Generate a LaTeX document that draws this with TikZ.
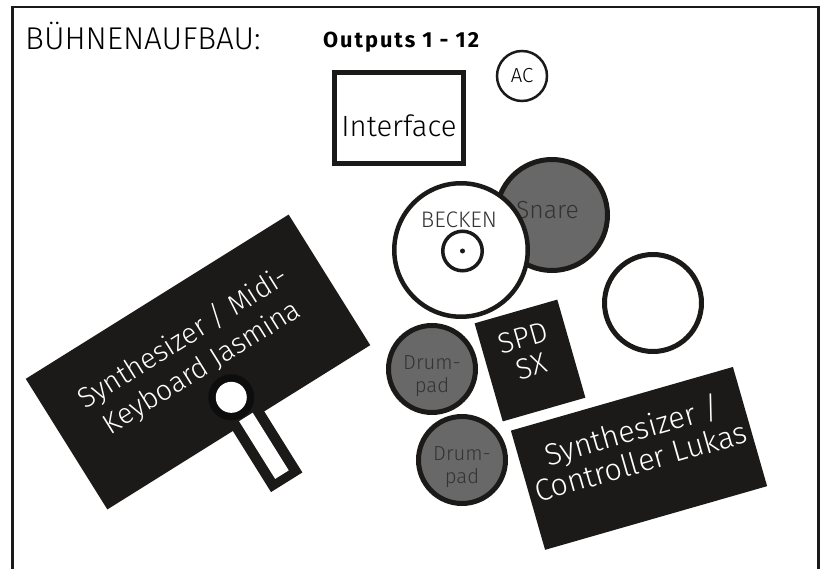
\documentclass[tikz,border=0pt]{standalone}
\usepackage{fontspec}
\IfFontExistsTF{Fira Sans Light}
  {\setmainfont{Fira Sans Light}}
  {\setmainfont{Fira Sans}}
\newfontfamily\headfont{Fira Sans}[LetterSpace=9]
\definecolor{inkblack}{HTML}{1B1A18}
\definecolor{padgray}{HTML}{686868}
\definecolor{textgray}{HTML}{333333}
\newcommand{\fsz}[2]{\fontsize{#1}{#2}\selectfont}

\begin{document}
\begin{tikzpicture}[x=1pt, y=-1pt, every node/.style={inner sep=0pt},
        drum/.style={circle, draw=inkblack, line width=5pt, fill=white},
        pad/.style={drum, fill=padgray, minimum size=87pt},
        padtext/.style={align=center, text=textgray, font=\fsz{20.3}{22.7}},
        blackbox/.style={rectangle, fill=inkblack},
        boxtext/.style={align=center, text=white}]
                \useasboundingbox (0,0) rectangle (822,569);

                % Frame
                \draw[inkblack, line width=2.5pt] (12.5,569) -- (12.5,7) -- (818.5,7) -- (818.5,569);

                % Titles
                \node[anchor=base west, font=\fsz{31.5}{33}] at (25,50) (title) {BÜHNENAUFBAU:};
                \node[anchor=base west, font=\headfont\bfseries\fsz{21.8}{24}] at (323,48) (outputs) {Outputs 1 - 12};

                % Interface and AC
                \node[circle, draw=inkblack, line width=2.5pt, minimum size=50pt, font=\fsz{20.3}{22}] at (522,76) (ac) {AC};
                \node[draw=inkblack, line width=5pt, minimum width=129pt, minimum height=91pt] at (399,118) (interface) {};
                \node[font=\fsz{29.3}{31}] at ([yshift=-7.5pt]interface.center) (interfacetext) {Interface};

                % Drums
                \node[drum, fill=padgray, minimum size=111pt] at (552,215) (snare) {};
                \node[text=textgray, font=\fsz{24.7}{26}] at (547.5,210.4) (snaretext) {Snare};
                \node[drum, line width=4.5pt, minimum size=133.5pt] at (461,250) (becken) {};
                \node[text=textgray, font=\fsz{22.5}{24}] at (459,219.4) (beckentext) {BECKEN};
                \node[circle, draw=inkblack, line width=3.5pt, minimum size=39.5pt] at (462.5,251) (bell) {};
                \node[circle, fill=inkblack, minimum size=5pt] at (bell) (bellpoint) {};
                \node[drum, minimum size=97pt] at (653,303) (drum) {};
                \node[pad] at (432,369) (pad1) {};
                \node[padtext] at ([yshift=-7pt]pad1.center) (pad1text) {Drum-\\pad};
                \node[pad] at (462,460) (pad2) {};
                \node[padtext] at ([yshift=-7pt]pad2.center) (pad2text) {Drum-\\pad};

                % SPD-SX
                \node[blackbox, minimum width=86pt, minimum height=102pt, rotate=16] at (530,360.5) (spd) {};
                \node[boxtext, rotate=16, font=\fsz{29}{30}] at (527,352) (spdtext) {SPD\\SX};

                % Synthesizer Lukas
                \node[blackbox, minimum width=231pt, minimum height=124pt, rotate=16] at (639,458.4) (lukas) {};
                \node[boxtext, rotate=16, font=\fsz{30.5}{32}] at (636,445) (lukastext) {Synthesizer /\\Controller Lukas};

                % Keyboard Jasmina
                \node[blackbox, minimum width=310pt, minimum height=154pt, rotate=32] at (198,362) (keyboard) {};
                \begin{scope}[shift={(keyboard.center)}, rotate=32]
                    \fill[inkblack] (-7,60) rectangle (30,149);
                    \fill[white] (3.5,72) rectangle (19.5,140);
                    \node[circle, fill=black!95, minimum size=46pt] at (9.5,47.6) (ring) {};
                    \node[circle, fill=white, minimum size=31pt] at (ring) (hole) {};
                \end{scope}
                \node[boxtext, rotate=32, font=\fsz{28.5}{35}] at (193,353) (keyboardtext) {Synthesizer / Midi-\\Keyboard Jasmina};
\end{tikzpicture}
\end{document}
